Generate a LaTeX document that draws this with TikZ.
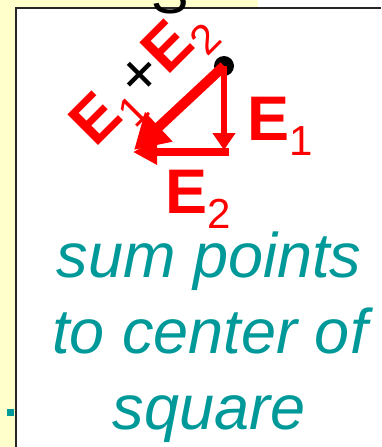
\documentclass[tikz,border=0pt]{standalone}
\usepackage{fontspec}
\setmainfont{Liberation Sans}
\usetikzlibrary{arrows.meta}
\definecolor{bgyellow}{HTML}{FFFFCC}
\definecolor{tealtxt}{HTML}{009999}
\definecolor{vred}{HTML}{FF0000}
\newcommand{\bigEfont}{\fontsize{63}{63}\selectfont}
\newcommand{\bigE}{\textbf{E}}
\newcommand{\subE}[1]{\raisebox{-15pt}{\fontsize{42}{42}\selectfont\mdseries #1}}
\begin{document}
\begin{tikzpicture}[x=1pt,y=-1pt,
  lbl/.style={text=vred, font=\bigEfont, inner sep=0pt},
  note/.style={text=tealtxt, font=\fontsize{63}{63}\selectfont\itshape, inner sep=0pt, anchor=base},
  vec/.style={draw=vred, fill=vred}]
\useasboundingbox (0,0) rectangle (381,447);
\clip (0,0) rectangle (381,447);
\fill[white] (0,0) rectangle (381,447);
\fill[bgyellow] (0,0) rectangle (258,8);
\fill[bgyellow] (0,0) rectangle (16,447);
\draw[line width=2.2pt, black!85] (16,447) -- (16,8) -- (381,8);
\fill[tealtxt] (7,409) rectangle (14,416);
% S at top (clipped)
\node[anchor=base, inner sep=0pt, font=\fontsize{56}{56}\selectfont] (s) at (170,13) {S};
% vectors
\coordinate (dotc) at (224,66);
\coordinate (corner) at (224,150);
\coordinate (hstart) at (229,152);
\coordinate (htip) at (133,152);
\coordinate (dtip) at (134,150);
\fill[black] (dotc) circle (10pt);
\draw[vec, line width=6pt, -{Triangle[length=17pt,width=22pt]}] (dotc) -- (corner);
\draw[vec, line width=8pt, -{Triangle[length=24pt,width=24pt]}] (hstart) -- (htip);
\draw[vec, line width=10pt, -{Triangle[length=34pt,width=38pt]}] (dotc) -- (dtip);
% labels
\node[lbl, anchor=base west] (e1lab) at (247,140) {\bigE\subE{1}};
\node[lbl, anchor=base west] (e2lab) at (165,213) {\bigE\subE{2}};
\node[lbl, anchor=base west, rotate=45] (sumlab) at (95,149) {\bigE\subE{1}\textcolor{black}{+}\bigE\subE{2}};
% note
\node[note] (t1) at (209,277) {sum points};
\node[note] (t2) at (210,353) {to center of};
\node[note] (t3) at (209,429) {square};
\end{tikzpicture}
\end{document}
